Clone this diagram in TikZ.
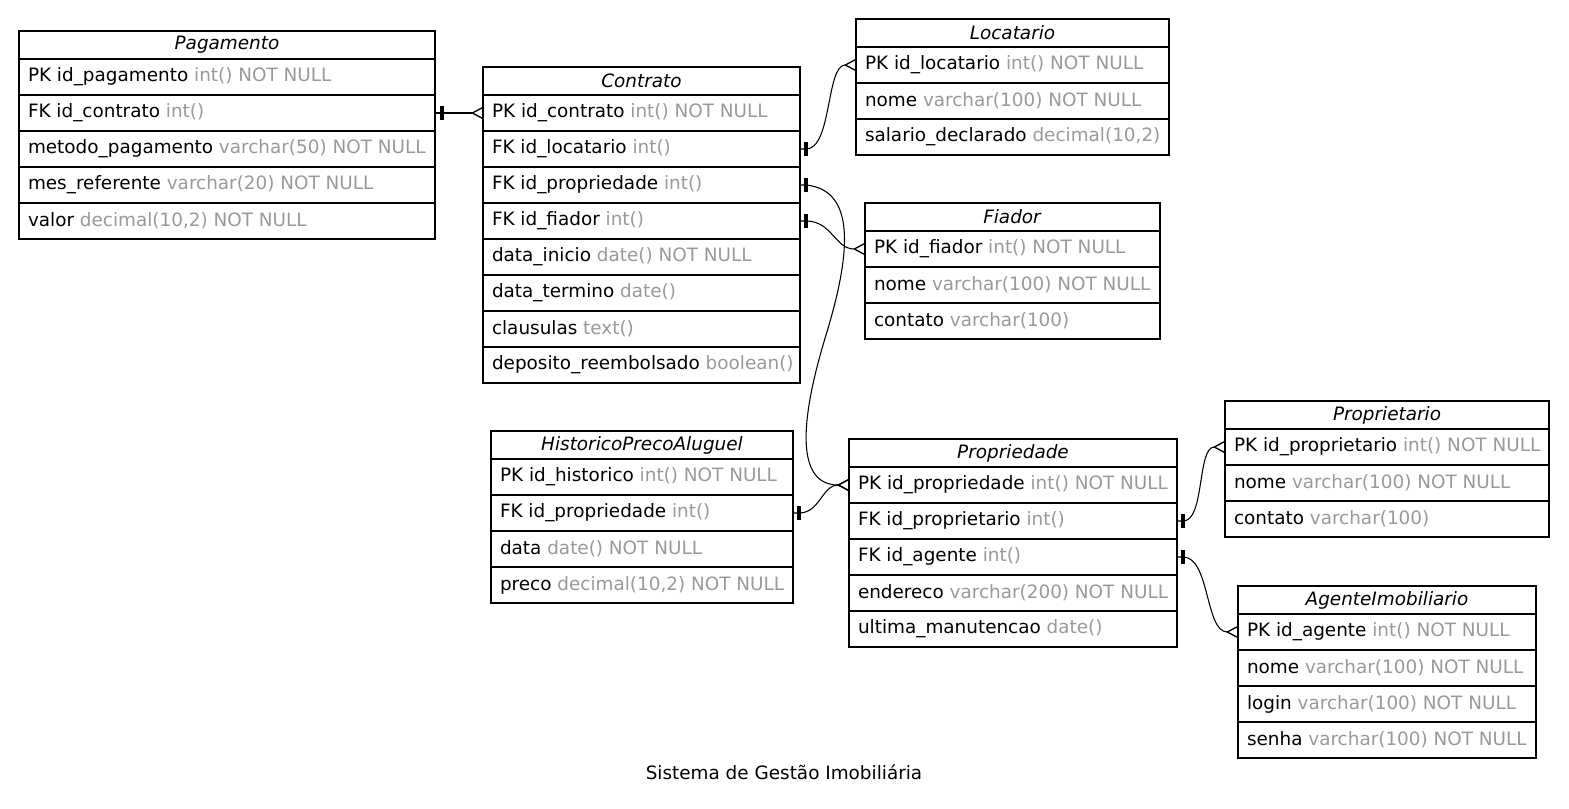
\documentclass[tikz,border=0pt]{standalone}
\usepackage{fontspec}
\setmainfont{DejaVu Sans}
\usepackage{tikz}
\usetikzlibrary{arrows.meta}
\definecolor{typegray}{RGB}{153,153,153}
\newcommand{\coltype}[1]{\textcolor{typegray}{#1}}
\newcommand{\drawtable}[5]{
    \pgfmathsetmacro{\tablew}{#3*0.75}
    \pgfmathsetmacro{\textw}{#3*0.75-13.5}
    \node[tablehead, minimum width=\tablew pt, anchor=north west] (#1-0) at (#2) {\textit{#4}};
    \foreach \rowtxt [count=\i] in {#5}{
      \pgfmathtruncatemacro{\j}{\i-1}
      \node[tablerow, anchor=north west] (#1-\i) at (#1-\j.south west) {\makebox[\textw pt][l]{\rowtxt}};
    }
}
\tikzset{
  tablehead/.style={draw, line width=0.8pt, outer sep=0pt, inner sep=0pt, minimum height=21pt},
  tablerow/.style={draw, line width=0.8pt, outer sep=0pt, inner xsep=6.75pt, inner ysep=0pt, minimum height=27pt},
  edge/.style={line width=0.8pt},
  many/.style={-{Straight Barb[reversed, length=7.5pt, width=8pt, line width=1pt]}},
  onebar/.style={fill, inner sep=0pt, minimum width=3pt, minimum height=10pt}
}

\begin{document}
\begin{tikzpicture}[x=0.75pt, y=-0.75pt, font=\fontsize{13.8}{16}\selectfont]
\useasboundingbox (0,0) rectangle (1569,808);
\drawtable{pagamento}{19,31}{416}{Pagamento}{
    {PK id\_pagamento \coltype{int() NOT NULL}},
    {FK id\_contrato \coltype{int()}},
    {metodo\_pagamento \coltype{varchar(50) NOT NULL}},
    {mes\_referente \coltype{varchar(20) NOT NULL}},
    {valor \coltype{decimal(10,2) NOT NULL}}}
\drawtable{contrato}{483,67}{317}{Contrato}{
    {PK id\_contrato \coltype{int() NOT NULL}},
    {FK id\_locatario \coltype{int()}},
    {FK id\_propriedade \coltype{int()}},
    {FK id\_fiador \coltype{int()}},
    {data\_inicio \coltype{date() NOT NULL}},
    {data\_termino \coltype{date()}},
    {clausulas \coltype{text()}},
    {deposito\_reembolsado \coltype{boolean()}}}
\drawtable{locatario}{856,19}{313}{Locatario}{
    {PK id\_locatario \coltype{int() NOT NULL}},
    {nome \coltype{varchar(100) NOT NULL}},
    {salario\_declarado \coltype{decimal(10,2)}}}
\drawtable{fiador}{865,203}{295}{Fiador}{
    {PK id\_fiador \coltype{int() NOT NULL}},
    {nome \coltype{varchar(100) NOT NULL}},
    {contato \coltype{varchar(100)}}}
\drawtable{historico}{491,431}{302}{HistoricoPrecoAluguel}{
    {PK id\_historico \coltype{int() NOT NULL}},
    {FK id\_propriedade \coltype{int()}},
    {data \coltype{date() NOT NULL}},
    {preco \coltype{decimal(10,2) NOT NULL}}}
\drawtable{propriedade}{849,439}{328}{Propriedade}{
    {PK id\_propriedade \coltype{int() NOT NULL}},
    {FK id\_proprietario \coltype{int()}},
    {FK id\_agente \coltype{int()}},
    {endereco \coltype{varchar(200) NOT NULL}},
    {ultima\_manutencao \coltype{date()}}}
\drawtable{proprietario}{1225,401}{324}{Proprietario}{
    {PK id\_proprietario \coltype{int() NOT NULL}},
    {nome \coltype{varchar(100) NOT NULL}},
    {contato \coltype{varchar(100)}}}
\drawtable{agente}{1238,586}{298}{AgenteImobiliario}{
    {PK id\_agente \coltype{int() NOT NULL}},
    {nome \coltype{varchar(100) NOT NULL}},
    {login \coltype{varchar(100) NOT NULL}},
    {senha \coltype{varchar(100) NOT NULL}}}
\draw[edge, many] (pagamento-2.east) -- ++(7,0) node[onebar]{} -- (contrato-1.west);
\draw[edge, many] (contrato-2.east) -- ++(6,0) node[onebar]{} .. controls (832,149) and (826,65) .. (locatario-1.west);
\draw[edge, many] (contrato-3.east) -- ++(6,0) node[onebar]{} .. controls (855,190) and (852,250) .. (826,335) .. controls (800,420) and (795,485) .. (propriedade-1.west);
\draw[edge, many] (contrato-4.east) -- ++(6,0) node[onebar]{} .. controls (832,221) and (835,249) .. (fiador-1.west);
\draw[edge, many] (historico-2.east) -- ++(6,0) node[onebar]{} .. controls (820,513) and (822,485) .. (propriedade-1.west);
\draw[edge, many] (propriedade-2.east) -- ++(6,0) node[onebar]{} .. controls (1205,521) and (1197,447) .. (proprietario-1.west);
\draw[edge, many] (propriedade-3.east) -- ++(6,0) node[onebar]{} .. controls (1210,557) and (1205,632) .. (agente-1.west);
\node (caption) at (784,772) {Sistema de Gestão Imobiliária};
\end{tikzpicture}
\end{document}
